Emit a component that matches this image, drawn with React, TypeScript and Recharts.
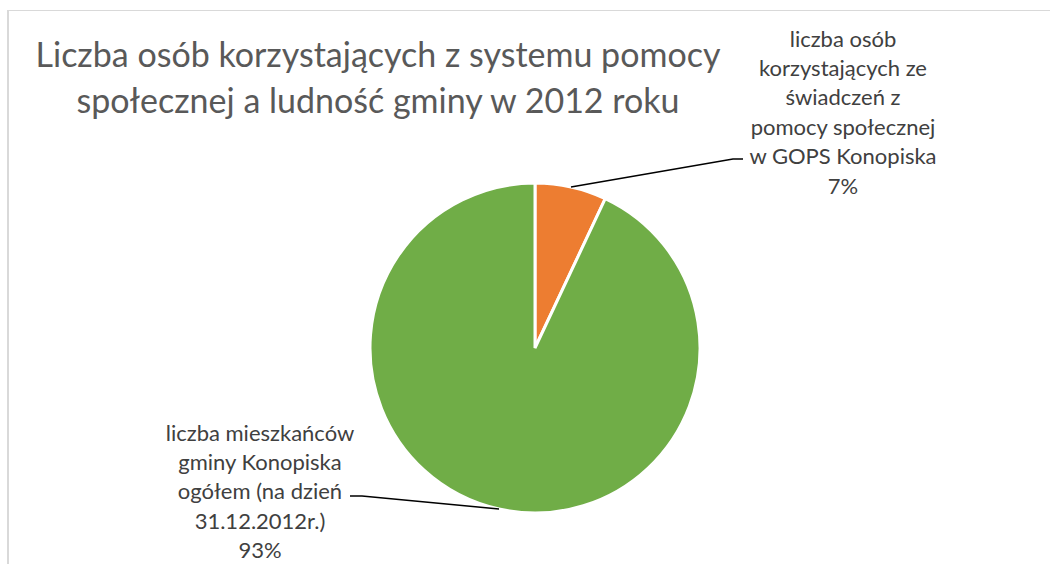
import { PieChart, Pie, Cell } from "recharts";

const sliceNames = [
  "liczba osób korzystających ze świadczeń z pomocy społecznej w GOPS Konopiska",
  "liczba mieszkańców gminy Konopiska ogółem (na dzień 31.12.2012r.)",
];
const sliceValues = [7, 93];
const sliceColors = ["#ED7D31", "#70AD47"];
const labelLines = [
  ["liczba osób", "korzystających ze", "świadczeń z", "pomocy społecznej", "w GOPS Konopiska"],
  ["liczba mieszkańców", "gminy Konopiska", "ogółem (na dzień", "31.12.2012r.)"],
];
const titleLines = ["Liczba osób korzystających z systemu pomocy", "społecznej a ludność gminy w 2012 roku"];

const data = sliceNames.map((name, i) => ({ name, value: sliceValues[i] }));

const FONT = "Lato, 'Open Sans', sans-serif";
const LINE_H = 29.4;

// placement of each label relative to the pie centre
const labelPos = [
  { tx: 308, ty: -310, ex: 198, ey: -189, hx: 208 },
  { tx: -275, ty: 84, ex: -173, ey: 148, hx: -185 },
];

const renderLabel = (props: any) => {
  const { cx, cy, midAngle, outerRadius, index, percent } = props;
  const rad = Math.PI / 180;
  const sx = cx + outerRadius * Math.cos(-midAngle * rad);
  const sy = cy + outerRadius * Math.sin(-midAngle * rad);
  const p = labelPos[index];
  const lines = [...labelLines[index], `${Math.round(percent * 100)}%`];
  return (
    <g key={`lbl-${index}`}>
      <polyline
        points={`${sx},${sy} ${cx + p.ex},${cy + p.ey} ${cx + p.hx},${cy + p.ey}`}
        fill="none"
        stroke="#000"
        strokeWidth={1.5}
      />
      <text x={cx + p.tx} y={cy + p.ty} textAnchor="middle" fill="#404040" fontSize={22} fontFamily={FONT}>
        {lines.map((t, i) => (
          <tspan key={i} x={cx + p.tx} y={cy + p.ty + i * LINE_H} dominantBaseline="central">
            {t}
          </tspan>
        ))}
      </text>
    </g>
  );
};

export default function App() {
  return (
    <div style={{ position: "absolute", left: 0, top: 0, width: 1050, height: 564, background: "#fff" }}>
      <div
        style={{
          position: "absolute",
          left: 7,
          top: 10,
          width: 1043,
          height: 554,
          borderTop: "1px solid #d9d9d9",
          borderLeft: "2px solid #d9d9d9",
        }}
      />
      <div
        style={{
          position: "absolute",
          left: 0,
          top: 31,
          width: 756,
          textAlign: "center",
          fontFamily: FONT,
          fontSize: 34,
          lineHeight: "46px",
          color: "#595959",
        }}
      >
        {titleLines.map((t, i) => (
          <div key={i}>{t}</div>
        ))}
      </div>
      <div style={{ position: "absolute", left: 0, top: 0 }}>
        <PieChart width={1050} height={564} margin={{ top: 0, right: 0, bottom: 0, left: 0 }}>
          <Pie
            data={data}
            dataKey="value"
            nameKey="name"
            cx={535}
            cy={348}
            outerRadius={165}
            startAngle={90}
            endAngle={-270}
            stroke="#fff"
            strokeWidth={3}
            label={renderLabel}
            labelLine={false}
            isAnimationActive={false}
          >
            {data.map((d, i) => (
              <Cell key={d.name} fill={sliceColors[i]} />
            ))}
          </Pie>
        </PieChart>
      </div>
    </div>
  );
}
